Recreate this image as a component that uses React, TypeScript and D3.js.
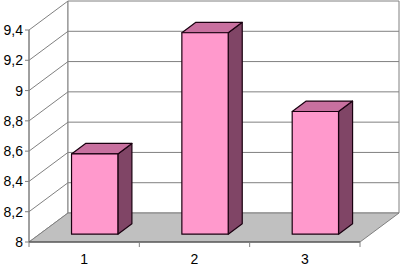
import React, { useRef, useEffect } from "react";
import * as d3 from "d3";

// data
const categories = ["1", "2", "3"];
const values = [8.53, 9.33, 8.81];
const yTicks = [8, 8.2, 8.4, 8.6, 8.8, 9, 9.2, 9.4];
const yTickLabels = ["8", "8,2", "8,4", "8,6", "8,8", "9", "9,2", "9,4"];

const App = () => {
  const svgRef = useRef<SVGSVGElement>(null);
  const width = 400;
  const height = 267;

  // front plane and depth of the 3D box
  const front = { left: 29, right: 360, bottom: 242, top: 30 };
  const depth = { dx: 39, dy: -29 };

  useEffect(() => {
    const svg = d3.select(svgRef.current);
    svg.selectAll("*").remove();

    const x = d3
      .scaleBand()
      .domain(categories)
      .range([front.left, front.right])
      .paddingInner(0)
      .paddingOuter(0);

    const y = d3
      .scaleLinear()
      .domain([8, 9.4])
      .range([front.bottom, front.top]);

    // project a point on the front plane back by fraction f of the depth
    const P = (px: number, v: number, f: number): [number, number] => [
      px + f * depth.dx,
      y(v) + f * depth.dy,
    ];
    const pt = (p: [number, number]) => p.join(",");

    const grid = "#808080";

    // left wall
    svg
      .append("polygon")
      .attr(
        "points",
        [P(front.left, 8, 0), P(front.left, 9.4, 0), P(front.left, 9.4, 1), P(front.left, 8, 1)]
          .map(pt)
          .join(" ")
      )
      .attr("fill", "#fff")
      .attr("stroke", grid);

    // back wall
    svg
      .append("polygon")
      .attr(
        "points",
        [P(front.left, 8, 1), P(front.left, 9.4, 1), P(front.right, 9.4, 1), P(front.right, 8, 1)]
          .map(pt)
          .join(" ")
      )
      .attr("fill", "#fff")
      .attr("stroke", grid);

    // gridlines on both walls
    const g = svg.append("g").attr("stroke", grid).attr("fill", "none");
    yTicks.slice(1, -1).forEach((t) => {
      const a = P(front.left, t, 0);
      const b = P(front.left, t, 1);
      const c = P(front.right, t, 1);
      g.append("polyline").attr("points", [a, b, c].map(pt).join(" "));
    });

    // floor
    svg
      .append("polygon")
      .attr(
        "points",
        [P(front.left, 8, 0), P(front.right, 8, 0), P(front.right, 8, 1), P(front.left, 8, 1)]
          .map(pt)
          .join(" ")
      )
      .attr("fill", "#c0c0c0")
      .attr("stroke", grid);

    // bars
    const barW = x.bandwidth() * 0.42;
    const f0 = 0.27;
    const f1 = 0.63;
    const bars = svg
      .append("g")
      .attr("stroke", "#1a0010")
      .attr("stroke-width", 1.2)
      .attr("stroke-linejoin", "round");
    categories.forEach((c, i) => {
      const x0 = (x(c) as number) + (x.bandwidth() - barW) / 2;
      const x1 = x0 + barW;
      const v = values[i];
      // side
      bars
        .append("polygon")
        .attr("points", [P(x1, 8, f0), P(x1, v, f0), P(x1, v, f1), P(x1, 8, f1)].map(pt).join(" "))
        .attr("fill", "#804566");
      // top
      bars
        .append("polygon")
        .attr("points", [P(x0, v, f0), P(x1, v, f0), P(x1, v, f1), P(x0, v, f1)].map(pt).join(" "))
        .attr("fill", "#c8709f");
      // front
      const a = P(x0, v, f0);
      const b = P(x1, 8, f0);
      bars
        .append("rect")
        .attr("x", a[0])
        .attr("y", a[1])
        .attr("width", b[0] - a[0])
        .attr("height", b[1] - a[1])
        .attr("fill", "#ff99cc");
    });

    // value axis
    svg
      .append("line")
      .attr("x1", front.left)
      .attr("x2", front.left)
      .attr("y1", y(8))
      .attr("y2", y(9.4))
      .attr("stroke", grid);
    const yl = svg
      .append("g")
      .attr("font-family", "Liberation Sans, Arial, sans-serif")
      .attr("font-size", 14)
      .attr("fill", "#000");
    yTicks.forEach((t, i) => {
      svg
        .append("line")
        .attr("x1", front.left - 4)
        .attr("x2", front.left)
        .attr("y1", y(t))
        .attr("y2", y(t))
        .attr("stroke", grid);
      yl.append("text")
        .attr("x", front.left - 6)
        .attr("y", y(t))
        .attr("dy", "0.36em")
        .attr("text-anchor", "end")
        .text(yTickLabels[i]);
    });

    // category axis
    svg
      .append("line")
      .attr("x1", front.left)
      .attr("x2", front.right)
      .attr("y1", front.bottom)
      .attr("y2", front.bottom)
      .attr("stroke", "#404040");
    [...categories.map((c) => x(c) as number), front.right].forEach((tx) => {
      svg
        .append("line")
        .attr("x1", tx)
        .attr("x2", tx)
        .attr("y1", front.bottom)
        .attr("y2", front.bottom + 5)
        .attr("stroke", grid);
    });
    const xl = svg
      .append("g")
      .attr("font-family", "Liberation Sans, Arial, sans-serif")
      .attr("font-size", 14)
      .attr("fill", "#000");
    categories.forEach((c) => {
      xl.append("text")
        .attr("x", (x(c) as number) + x.bandwidth() / 2)
        .attr("y", 264)
        .attr("text-anchor", "middle")
        .text(c);
    });
  }, []);

  return (
    <svg
      ref={svgRef}
      width={width}
      height={height}
      style={{ position: "absolute", left: 0, top: 0, background: "#fff" }}
    />
  );
};

export default App;
